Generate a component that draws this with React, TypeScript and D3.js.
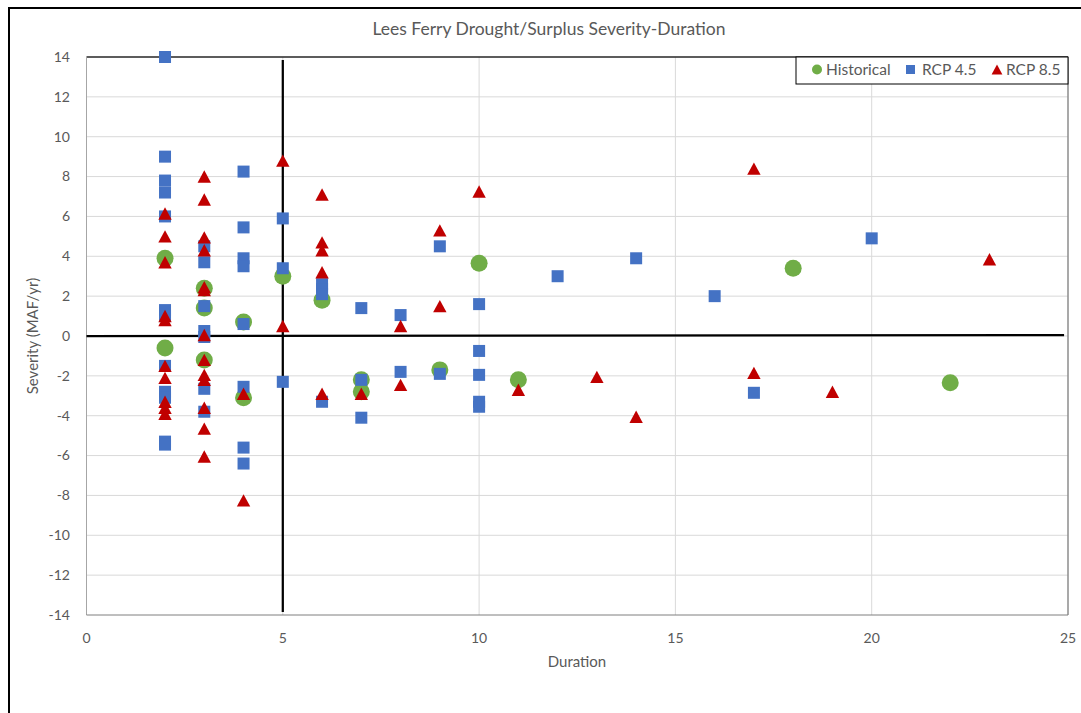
import * as d3 from "d3";

// Historical, RCP 4.5 and RCP 8.5 runs: [duration (yrs), severity (MAF/yr)]
const historical: [number, number][] = [
  [2, 3.9], [2, -0.6], [3, 2.4], [3, 1.4], [3, -1.2], [4, 0.7], [4, -3.1],
  [5, 3.0], [6, 1.8], [7, -2.2], [7, -2.8], [9, -1.7], [10, 3.65], [11, -2.2],
  [18, 3.4], [22, -2.35],
];

const rcp45: [number, number][] = [
  [2, 14.0], [2, 9.0], [2, 7.8], [2, 7.2], [2, 6.0], [2, 1.3], [2, 1.0],
  [2, -1.5], [2, -2.8], [2, -3.1], [2, -5.3], [2, -5.45],
  [3, 4.5], [3, 3.7], [3, 1.5], [3, 0.25], [3, -0.05], [3, -2.65], [3, -3.8],
  [4, 8.25], [4, 5.45], [4, 3.9], [4, 3.5], [4, 0.6], [4, -2.55], [4, -5.6], [4, -6.4],
  [5, 5.9], [5, 3.4], [5, -2.3],
  [6, 2.6], [6, 2.35], [6, 2.1], [6, -3.3],
  [7, 1.4], [7, -2.2], [7, -4.1],
  [8, 1.05], [8, -1.8],
  [9, 4.5], [9, -1.9],
  [10, 1.6], [10, -0.75], [10, -1.95], [10, -3.3], [10, -3.55],
  [12, 3.0], [14, 3.9], [16, 2.0], [17, -2.85], [20, 4.9],
];

const rcp85: [number, number][] = [
  [2, 6.15], [2, 5.0], [2, 3.7], [2, 1.0], [2, 0.8], [2, -1.5], [2, -2.1],
  [2, -3.3], [2, -3.6], [2, -3.9],
  [3, 8.0], [3, 6.85], [3, 4.95], [3, 4.3], [3, 2.45], [3, 2.3], [3, 0.05],
  [3, -1.2], [3, -1.95], [3, -2.2], [3, -3.6], [3, -4.65], [3, -6.05],
  [4, -2.9], [4, -8.25],
  [5, 8.8], [5, 0.5],
  [6, 7.1], [6, 4.7], [6, 4.3], [6, 3.2], [6, -2.9],
  [7, -2.9],
  [8, 0.5], [8, -2.45],
  [9, 5.3], [9, 1.5],
  [10, 7.25], [11, -2.7], [13, -2.05], [14, -4.05],
  [17, 8.4], [17, -1.85], [19, -2.8], [23, 3.85],
];

// reference lines drawn as series
const zeroLine: [number, number][] = [[0, 0], [24.9, 0.05]];
const fiveLine: [number, number][] = [[5, 13.85], [5, -13.85]];

const xTicks = [0, 5, 10, 15, 20, 25];
const yTicks = d3.range(-14, 15, 2);

const legendItems = ["Historical", "RCP 4.5", "RCP 8.5"];

const GREEN = "#70AD47";
const BLUE = "#4472C4";
const RED = "#C00000";
const TEXT = "#595959";
const FONT = "Lato, 'Noto Sans', sans-serif";

const triangle = (s: number) => `M0,${-s}L${s * 1.08},${s}L${-s * 1.08},${s}Z`;

export default function App() {
  const width = 1081;
  const height = 713;

  const x = d3.scaleLinear().domain([0, 25]).range([86.5, 1068]);
  const y = d3.scaleLinear().domain([-14, 14]).range([615, 57]);
  const line = d3.line<[number, number]>().x(d => x(d[0])).y(d => y(d[1]));

  return (
    <svg
      width={width}
      height={height}
      style={{ position: "absolute", left: 0, top: 0, background: "#fff" }}
      fontFamily={FONT}
    >
      <rect x={9} y={8} width={1200} height={800} fill="#fff" stroke="#000" strokeWidth={2} />

      <text x={549} y={35} textAnchor="middle" fontSize={17.5} fill={TEXT}>
        Lees Ferry Drought/Surplus Severity-Duration
      </text>

      {/* gridlines */}
      {yTicks.slice(1, -1).map(t => (
        <line key={"gy" + t} x1={x(0)} x2={x(25)} y1={y(t)} y2={y(t)} stroke="#d9d9d9" />
      ))}
      {xTicks.slice(1, -1).map(t => (
        <line key={"gx" + t} x1={x(t)} x2={x(t)} y1={y(14)} y2={y(-14)} stroke="#d9d9d9" />
      ))}

      {/* plot frame */}
      <line x1={x(0)} x2={x(25)} y1={y(14)} y2={y(14)} stroke="#262626" strokeWidth={1.5} />
      <line x1={x(0)} x2={x(0)} y1={y(14)} y2={y(-14)} stroke="#a6a6a6" />
      <line x1={x(25)} x2={x(25)} y1={y(14)} y2={y(-14)} stroke="#8c8c8c" strokeWidth={1.5} />
      <line x1={x(0)} x2={x(25)} y1={y(-14)} y2={y(-14)} stroke="#7f7f7f" />

      {/* tick labels */}
      {yTicks.map(t => (
        <text key={"ty" + t} x={70} y={y(t)} dy="0.35em" textAnchor="end" fontSize={14} fill={TEXT}>
          {t}
        </text>
      ))}
      {xTicks.map(t => (
        <text key={"tx" + t} x={x(t)} y={638} dy="0.35em" textAnchor="middle" fontSize={14} fill={TEXT}>
          {t}
        </text>
      ))}

      <text x={577} y={667} textAnchor="middle" fontSize={15} fill={TEXT}>Duration</text>
      <text
        transform={`translate(38,${y(0)}) rotate(-90)`}
        textAnchor="middle"
        fontSize={15}
        fill={TEXT}
      >
        Severity (MAF/yr)
      </text>

      {/* reference lines */}
      <path d={line(zeroLine) || ""} fill="none" stroke="#000" strokeWidth={2.25} />
      <path d={line(fiveLine) || ""} fill="none" stroke="#000" strokeWidth={2.25} />

      {/* series */}
      {historical.map((d, i) => (
        <circle key={"h" + i} cx={x(d[0])} cy={y(d[1])} r={8.5} fill={GREEN} />
      ))}
      {rcp45.map((d, i) => (
        <rect key={"a" + i} x={x(d[0]) - 6} y={y(d[1]) - 6} width={12} height={12} fill={BLUE} />
      ))}
      {rcp85.map((d, i) => (
        <path key={"b" + i} transform={`translate(${x(d[0])},${y(d[1])})`} d={triangle(6.2)} fill={RED} />
      ))}

      {/* legend */}
      <g>
        <rect x={796} y={57} width={272} height={27} fill="#fff" stroke="#000" />
        <circle cx={817} cy={69.5} r={5} fill={GREEN} />
        <text x={826} y={69.5} dy="0.35em" fontSize={15.5} fill={TEXT}>{legendItems[0]}</text>
        <rect x={906} y={65} width={9} height={9} fill={BLUE} />
        <text x={922} y={69.5} dy="0.35em" fontSize={15.5} fill={TEXT}>{legendItems[1]}</text>
        <path transform="translate(997,69.5)" d={triangle(5)} fill={RED} />
        <text x={1006} y={69.5} dy="0.35em" fontSize={15.5} fill={TEXT}>{legendItems[2]}</text>
      </g>
    </svg>
  );
}
